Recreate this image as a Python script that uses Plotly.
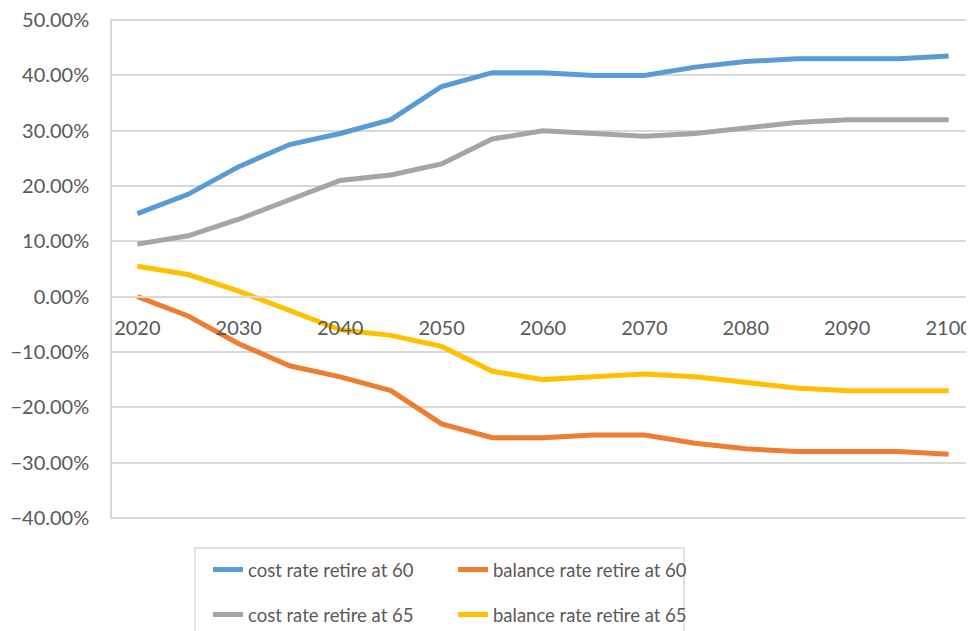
import plotly.graph_objects as go

years = [2020, 2025, 2030, 2035, 2040, 2045, 2050, 2055, 2060,
         2065, 2070, 2075, 2080, 2085, 2090, 2095, 2100]

cost_60 = [15.0, 18.5, 23.5, 27.5, 29.5, 32.0, 38.0, 40.5, 40.5,
           40.0, 40.0, 41.5, 42.5, 43.0, 43.0, 43.0, 43.5]
balance_60 = [0.0, -3.5, -8.5, -12.5, -14.5, -17.0, -23.0, -25.5, -25.5,
              -25.0, -25.0, -26.5, -27.5, -28.0, -28.0, -28.0, -28.5]
cost_65 = [9.5, 11.0, 14.0, 17.5, 21.0, 22.0, 24.0, 28.5, 30.0,
           29.5, 29.0, 29.5, 30.5, 31.5, 32.0, 32.0, 32.0]
balance_65 = [5.5, 4.0, 1.0, -2.5, -6.0, -7.0, -9.0, -13.5, -15.0,
              -14.5, -14.0, -14.5, -15.5, -16.5, -17.0, -17.0, -17.0]

FONT = "Lato"
TXT = "#595959"

# the page body adds an 8px offset; plot area on screen is x 112..974, y 19..519
Y_LO, Y_HI = -0.402, 0.502

def px_x(p):
    return (p - 112) / 862

def px_y(p):
    return -(p - 519) / 500

fig = go.Figure()

series = [
    ("cost rate retire at 60", cost_60, "#5B9BD5", "legend"),
    ("balance rate retire at 60", balance_60, "#ED7D31", "legend2"),
    ("cost rate retire at 65", cost_65, "#A5A5A5", "legend3"),
    ("balance rate retire at 65", balance_65, "#FFC000", "legend4"),
]
for name, vals, color, leg in series:
    fig.add_trace(go.Scatter(
        x=years, y=[v / 100 for v in vals],
        mode="lines", name=name, legend=leg,
        line=dict(color=color, width=5),
    ))

# legend frame (bottom edge falls outside the page in the original)
fig.add_shape(type="rect", xref="paper", yref="paper",
              x0=px_x(195), x1=px_x(684), y0=px_y(548), y1=px_y(660),
              line=dict(color="#d9d9d9", width=1.5), fillcolor="rgba(0,0,0,0)")

def leg(x_px, y_px):
    return dict(
        orientation="h", x=px_x(x_px), xanchor="left",
        y=px_y(y_px), yanchor="middle", bgcolor="rgba(0,0,0,0)",
        font=dict(family=FONT, size=18.5, color=TXT),
    )

fig.update_layout(
    width=974, height=631,
    paper_bgcolor="white", plot_bgcolor="white",
    margin=dict(l=104, r=8, t=11, b=120, autoexpand=False),
    font=dict(family=FONT, size=20, color=TXT),
    xaxis=dict(
        range=[2017.5, 2102.5], tickmode="linear", tick0=2020, dtick=10,
        showgrid=False, zeroline=False, automargin=False,
        anchor="free", position=-Y_LO / (Y_HI - Y_LO),
        showline=True, linecolor="#d9d9d9", linewidth=1.5,
        ticks="", ticklabelstandoff=14, ticklabeloverflow="allow",
        tickfont=dict(family=FONT, size=20, color=TXT),
    ),
    yaxis=dict(
        range=[Y_LO, Y_HI], tickmode="linear", tick0=-0.4, dtick=0.1,
        tickformat=".2%", automargin=False,
        showgrid=True, gridcolor="#d9d9d9", gridwidth=1.5,
        zeroline=False,
        showline=True, linecolor="#d9d9d9", linewidth=1.5,
        ticks="", ticklabelstandoff=17, ticklabeloverflow="allow",
        tickfont=dict(family=FONT, size=20, color=TXT),
    ),
    legend=leg(208, 570),
    legend2=leg(453, 570),
    legend3=leg(208, 615),
    legend4=leg(453, 615),
    showlegend=True,
)

fig.write_html("out.html")
